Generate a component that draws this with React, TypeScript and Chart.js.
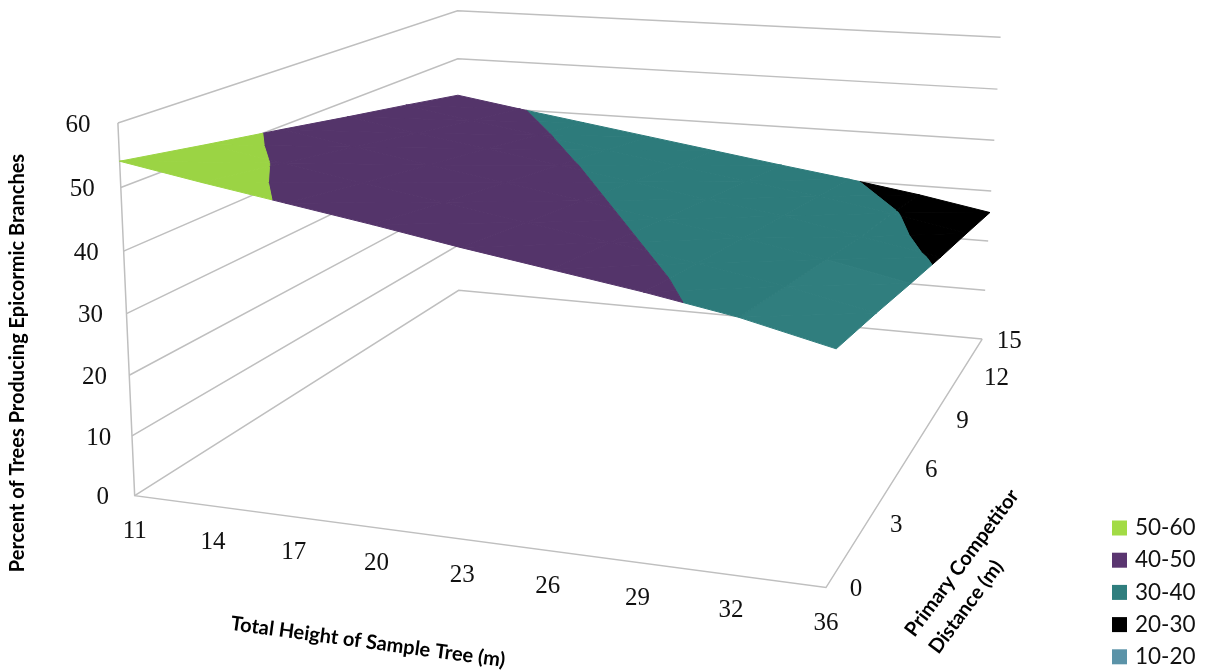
import React, { useEffect, useRef } from "react";
import { Chart, registerables } from "chart.js";

Chart.register(...registerables);

// ---- data ----
const heights = ["11", "14", "17", "20", "23", "26", "29", "32", "36"];
const distances = ["0", "3", "6", "9", "12", "15"];
const percentTicks = [0, 10, 20, 30, 40, 50, 60];
const pctAt0m = [54.1, 51.8, 49.65, 47.5, 45.2, 43.1, 41.0, 38.6, 35.4];
const pctAt3m = [51.7, 49.6, 47.3, 45.2, 43.0, 40.9, 38.8, 36.4, 33.5];
const pctAt6m = [49.4, 47.2, 45.0, 42.9, 40.8, 38.7, 36.6, 34.2, 31.4];
const pctAt9m = [47.0, 44.8, 42.8, 40.7, 38.6, 36.5, 34.5, 31.9, 29.4];
const pctAt12m = [44.7, 42.5, 40.5, 38.4, 36.4, 34.4, 32.4, 30.3, 27.6];
const pctAt15m = [42.3, 40.2, 38.2, 36.2, 34.2, 32.2, 30.3, 28.2, 25.7];
const surface = [pctAt0m, pctAt3m, pctAt6m, pctAt9m, pctAt12m, pctAt15m];
const bandNames = ["50-60", "40-50", "30-40", "20-30", "10-20"];
const bandLows = [50, 40, 30, 20, 10];

// ---- styles ----
const bandColors = ["#9BD444", "#54346A", "#2D7B7B", "#000000", "#5B93A8"];
const legendColors = ["#A2DB45", "#5A3570", "#2F7E7E", "#000000", "#5B93A8"];
const litTeal = "#307E7E";
const litCells = ["7,0", "7,1"];
const GRID = "#BFBFBF";
const TICK_FONT = '25px "Liberation Serif"';
const TITLE_FONT = 'bold 20px "Lato"';
const LEGEND_FONT = '22.5px "Lato"';

// view calibration: unit cube corner -> canvas position
const VIEW = [
  [0, 0, 0, 135, 496], [1, 0, 0, 826, 588], [0, 1, 0, 458, 291], [1, 1, 0, 982, 338],
  [0, 0, 1, 117, 124], [0, 1, 1, 458, 11], [1, 1, 1, 1000, 37],
  [0, 0, 0.5, 127, 312], [1, 1, 0.5, 992, 192], [0, 1, 5 / 6, 458, 58],
];

function solve(A: number[][], b: number[]) {
  const n = b.length;
  const M = A.map((r, i) => [...r, b[i]]);
  for (let c = 0; c < n; c++) {
    let p = c;
    for (let r = c + 1; r < n; r++) if (Math.abs(M[r][c]) > Math.abs(M[p][c])) p = r;
    [M[c], M[p]] = [M[p], M[c]];
    for (let r = 0; r < n; r++) {
      if (r === c) continue;
      const f = M[r][c] / M[c][c];
      for (let k = c; k <= n; k++) M[r][k] -= f * M[c][k];
    }
  }
  return M.map((r, i) => r[n] / r[i]);
}

function fitCamera() {
  const rows: number[][] = [];
  const rhs: number[] = [];
  for (const [X, Y, Z, px, py] of VIEW) {
    const u = px / 1000, v = py / 1000;
    rows.push([X, Y, Z, 1, 0, 0, 0, 0, -u * X, -u * Y, -u * Z]); rhs.push(u);
    rows.push([0, 0, 0, 0, X, Y, Z, 1, -v * X, -v * Y, -v * Z]); rhs.push(v);
  }
  const n = 11;
  const AtA = Array.from({ length: n }, () => new Array(n).fill(0));
  const Atb = new Array(n).fill(0);
  rows.forEach((r, k) => {
    for (let i = 0; i < n; i++) {
      Atb[i] += r[i] * rhs[k];
      for (let j = 0; j < n; j++) AtA[i][j] += r[i] * r[j];
    }
  });
  return solve(AtA, Atb);
}
const cam = fitCamera();

function project(i: number, j: number, pct: number) {
  const X = i / (heights.length - 1), Y = j / (distances.length - 1), Z = pct / 60;
  const w = cam[8] * X + cam[9] * Y + cam[10] * Z + 1;
  return {
    x: (1000 * (cam[0] * X + cam[1] * Y + cam[2] * Z + cam[3])) / w,
    y: (1000 * (cam[4] * X + cam[5] * Y + cam[6] * Z + cam[7])) / w,
  };
}

type V = [number, number, number];
function clip(poly: V[], limit: number, keepAbove: boolean): V[] {
  const out: V[] = [];
  const inside = (v: V) => (keepAbove ? v[2] >= limit : v[2] <= limit);
  poly.forEach((a, k) => {
    const b = poly[(k + 1) % poly.length];
    if (inside(a)) out.push(a);
    if (inside(a) !== inside(b)) {
      const t = (limit - a[2]) / (b[2] - a[2]);
      out.push([a[0] + t * (b[0] - a[0]), a[1] + t * (b[1] - a[1]), limit]);
    }
  });
  return out;
}

function lineDs(points: { x: number; y: number }[]) {
  return {
    data: points, showLine: true, pointRadius: 0, borderColor: GRID, borderWidth: 1.5,
    fill: false, order: 10, clip: false,
  };
}

function buildDatasets() {
  const ds: any[] = [];
  const last = heights.length - 1, back = distances.length - 1;
  percentTicks.forEach((p) => {
    ds.push(lineDs([project(0, 0, p), project(0, back, p), project(last, back, p)]));
  });
  ds.push(lineDs([project(0, 0, 60), project(0, 0, 0), project(last, 0, 0), project(last, back, 0)]));
  for (let j = 0; j < back; j++) {
    for (let i = 0; i < last; i++) {
      const a: V = [i, j, surface[j][i]], b: V = [i + 1, j, surface[j][i + 1]];
      const c: V = [i + 1, j + 1, surface[j + 1][i + 1]], d: V = [i, j + 1, surface[j + 1][i]];
      [[a, b, c], [a, c, d]].forEach((tri) => {
        bandLows.forEach((lo, bi) => {
          const poly = clip(clip(tri as V[], lo, true), lo + 10, false);
          if (poly.length < 3) return;
          let color = bandColors[bi];
          if (bi === 2 && litCells.includes(`${i},${j}`)) color = litTeal;
          const pts = poly.map((v) => project(v[0], v[1], v[2]));
          pts.push(pts[0]);
          ds.push({
            data: pts,
            showLine: true, pointRadius: 0, fill: "shape", backgroundColor: color,
            borderColor: color, borderWidth: 1, order: 1, clip: false,
          });
        });
      });
    }
  }
  return ds;
}

// tick label placement relative to the projected axis position
const heightLabelDX = [0, 0, 0, 0, 1, -1, -1, 0, 0];
const distanceLabelDX = [30, 30, 30, 31, 38, 27];
const labelsPlugin = {
  id: "labels3d",
  afterDatasetsDraw(chart: any) {
    const { ctx, scales } = chart;
    const sx = (v: number) => scales.x.getPixelForValue(v);
    const sy = (v: number) => scales.y.getPixelForValue(v);
    ctx.save();
    ctx.fillStyle = "#111";
    ctx.font = TICK_FONT;
    ctx.textAlign = "center";
    ctx.textBaseline = "middle";
    const last = heights.length - 1;
    percentTicks.forEach((p) => {
      const q = project(0, 0, p);
      ctx.fillText(String(p), sx(q.x - 32 - (8 * p) / 60), sy(q.y + 2));
    });
    heights.forEach((h, i) => {
      const q = project(i, 0, 0);
      ctx.fillText(h, sx(q.x + heightLabelDX[i]), sy(q.y + 36));
    });
    distances.forEach((d, j) => {
      const q = project(last, j, 0);
      ctx.fillText(d, sx(q.x + distanceLabelDX[j]), sy(q.y + 2));
    });
    ctx.fillStyle = "#000";
    ctx.font = TITLE_FONT;
    const title = (text: string, x: number, y: number, deg: number) => {
      ctx.save();
      ctx.translate(sx(x), sy(y));
      ctx.rotate((deg * Math.PI) / 180);
      ctx.fillText(text, 0, 0);
      ctx.restore();
    };
    title("Percent of Trees Producing Epicormic Branches", 18, 363, -90);
    title("Total Height of Sample Tree (m)", 368, 642, 7.7);
    title("Primary Competitor", 962, 563, -53.5);
    title("Distance (m)", 966, 607, -53.5);
    ctx.textAlign = "left";
    ctx.font = LEGEND_FONT;
    bandNames.forEach((n, k) => {
      const y = 528 + k * 32.2;
      ctx.fillStyle = legendColors[k];
      ctx.fillRect(sx(1112), sy(y - 7.5), 15, 15);
      ctx.fillStyle = "#111";
      ctx.fillText(n, sx(1135), sy(y));
    });
    ctx.restore();
  },
};

export default function App() {
  const ref = useRef<HTMLCanvasElement>(null);
  useEffect(() => {
    const chart = new Chart(ref.current!, {
      type: "scatter",
      data: { datasets: buildDatasets() },
      options: {
        animation: false,
        responsive: false,
        layout: { padding: 0 },
        plugins: { legend: { display: false }, tooltip: { enabled: false }, title: { display: false } },
        scales: {
          x: { type: "linear", min: 0, max: 1209, display: false },
          y: { type: "linear", min: 0, max: 671, reverse: true, display: false },
        },
      },
      plugins: [labelsPlugin],
    } as any);
    return () => chart.destroy();
  }, []);
  return (
    <div style={{ position: "fixed", left: 0, top: 0, width: 1209, height: 671, background: "#fff" }}>
      <canvas ref={ref} width={1209} height={671} style={{ display: "block" }} />
    </div>
  );
}
